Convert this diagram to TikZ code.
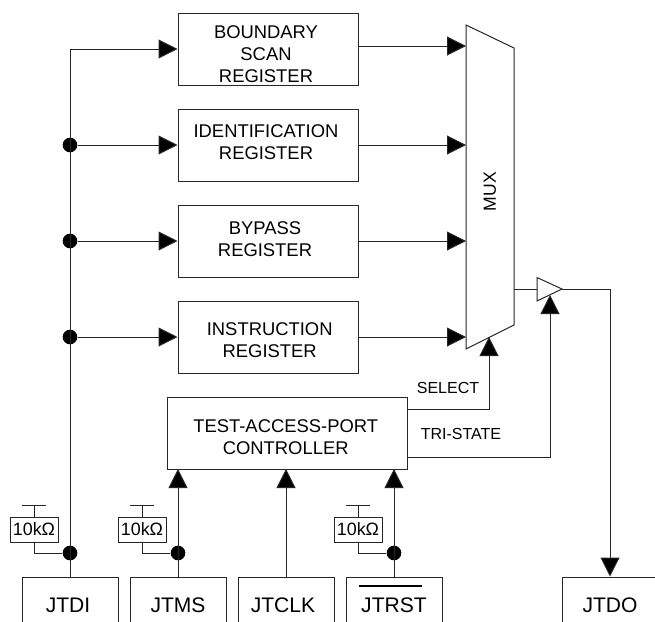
\documentclass[tikz,border=0pt]{standalone}
\usepackage{fontspec}
\setmainfont{Liberation Sans}
\usetikzlibrary{arrows.meta}
\newcommand{\fs}[1]{\fontsize{#1}{16.5}\selectfont}
\tikzset{
  x=0.75pt,y=-0.75pt,
  wire/.style={line width=0.75pt,draw=black!85},
  arr/.style={wire,-{Triangle[length=14.25pt,width=14.25pt,fill=black]}},
  regbox/.style={draw=black!85,line width=0.75pt,minimum width=135pt,minimum height=54pt,inner sep=0pt},
  regtext/.style={inner sep=0pt,align=center,font=\fs{13.8}},
  pinbox/.style={draw=black!85,line width=0.75pt,minimum width=72pt,minimum height=42.75pt,inner sep=0pt,font=\fs{15.8}},
  resbox/.style={draw=black!85,line width=0.75pt,minimum width=36pt,minimum height=18.75pt,inner sep=0pt,font=\fs{13.4}},
  lbl/.style={inner sep=0pt,font=\fs{12}},
  dot/.style={circle,fill=black,minimum size=11pt,inner sep=0pt},
}
\begin{document}
\begin{tikzpicture}
\useasboundingbox (0,0) rectangle (655,621);
\clip (0,0) rectangle (655,621);
% registers
\node[regbox] (bsr) at (268,49) {};
\node[regbox] (idr) at (268,145) {};
\node[regbox] (byp) at (268,241) {};
\node[regbox] (ins) at (268,337) {};
\node[regbox,minimum width=180pt] (tap) at (287,433) {};
\node[regtext] (bsrtext) at (266,54) {BOUNDARY\\SCAN\\REGISTER};
\node[regtext] (idrtext) at (266,142) {IDENTIFICATION\\REGISTER};
\node[regtext] (byptext) at (265,238.75) {BYPASS\\REGISTER};
\node[regtext] (instext) at (269.7,340.5) {INSTRUCTION\\REGISTER};
\node[regtext] (taptext) at (285.7,437) {TEST-ACCESS-PORT\\CONTROLLER};
% pins
\node[pinbox] (jtdi) at (70,605.5) {\hspace*{-3pt}JTDI};
\node[pinbox] (jtms) at (178,605.5) {JTMS};
\node[pinbox] (jtclk) at (286,605.5) {\hspace*{-4.5pt}JTCLK};
\node[pinbox] (jtrst) at (394,605.5) {JTRST};
\node[pinbox] (jtdo) at (610,605.5) {JTDO};
\draw[line width=1.5pt] (359,586) -- (422,586);
% mux
\coordinate (m1) at (466,25);
\coordinate (m2) at (514,48);
\coordinate (m3) at (514,325);
\coordinate (m4) at (466,349);
\draw[wire,line join=miter] (m1) -- (m2) -- (m3) -- (m4) -- cycle;
\node[lbl,font=\fs{13.2},rotate=90] (mux) at (490,191.5) {MUX};
% buffer
\coordinate (b1) at (537,277.5);
\coordinate (b2) at (562,289);
\coordinate (b3) at (537,301);
\draw[wire] (b1) -- (b2) -- (b3) -- cycle;
% bus dots
\node[dot] (d1) at (70,145) {};
\node[dot] (d2) at (70,241) {};
\node[dot] (d3) at (70,337) {};
\node[dot] (d4) at (70,553) {};
\node[dot] (d5) at (178,553) {};
\node[dot] (d6) at (394,553) {};
% inputs
\draw[arr] (jtdi.north) -- (70,49) -- (bsr.west);
\draw[arr] (d1) -- (idr.west);
\draw[arr] (d2) -- (byp.west);
\draw[arr] (d3) -- (ins.west);
% to mux
\coordinate (mi1) at (466,46);
\coordinate (mi2) at (466,145);
\coordinate (mi3) at (466,241);
\coordinate (mi4) at (466,337);
\coordinate (bsrout) at (358,46);
\draw[arr] (bsrout) -- (mi1);
\draw[arr] (idr.east) -- (mi2);
\draw[arr] (byp.east) -- (mi3);
\draw[arr] (ins.east) -- (mi4);
% control
\coordinate (sel) at (489,337);
\coordinate (tri) at (550,295);
\coordinate (tapsel) at (407,409);
\coordinate (taptri) at (407,457);
\draw[arr] (tapsel) -- (489,409) -- (sel);
\draw[arr] (taptri) -- (550,457) -- (tri);
\node[lbl] (sellbl) at (448,388) {SELECT};
\node[lbl] (trilbl) at (461,434) {TRI-STATE};
% output
\coordinate (muxout) at (514,289);
\coordinate (bufin) at (537,289);
\draw[wire] (muxout) -- (bufin);
\draw[arr] (b2) -- (610,289) -- (jtdo.north);
% pins to TAP
\draw[arr] (jtms.north) -- (178,469);
\draw[arr] (jtclk.north) -- (286,469);
\draw[arr] (jtrst.north) -- (394,469);
% pull-ups
\node[resbox] (r1) at (34,529.5) {10kΩ};
\node[resbox] (r2) at (142,529.5) {10kΩ};
\node[resbox] (r3) at (358,529.5) {10kΩ};
\foreach \r/\d/\x in {r1/d4/34,r2/d5/142,r3/d6/358}{
  \draw[wire] (\r.south) -- (\x,553) -- (\d);
  \coordinate (top\r) at (\x,505);
  \draw[wire] (\r.north) -- (top\r);
  \draw[wire] (\x-12,505) -- (\x+12,505);
}
\end{tikzpicture}
\end{document}
